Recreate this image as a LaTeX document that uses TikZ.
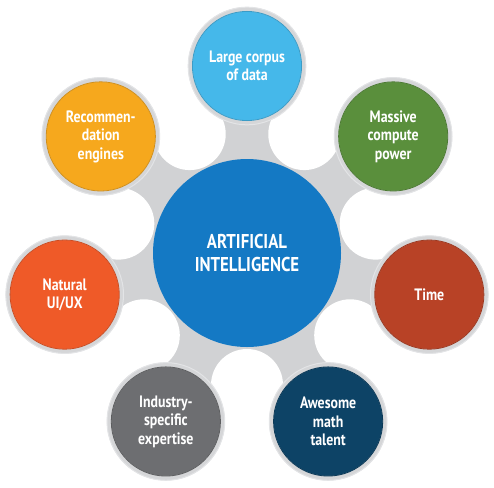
\documentclass[tikz,border=0pt]{standalone}
\usepackage{fontspec}
\setmainfont{PT Sans}[FakeStretch=0.84]
\usetikzlibrary{calc}
\definecolor{bandgray}{HTML}{D1D2D4}
\definecolor{ringgray}{HTML}{D5D6D8}
\definecolor{ringedge}{HTML}{E3E4E6}
\definecolor{cblue}{HTML}{1479C4}
\definecolor{lblue}{HTML}{45B8EA}
\definecolor{sgreen}{HTML}{5A8F3C}
\definecolor{srust}{HTML}{B84226}
\definecolor{snavy}{HTML}{0D4366}
\definecolor{sgray}{HTML}{6D6E71}
\definecolor{sorange}{HTML}{EF5A28}
\definecolor{syellow}{HTML}{F6A81D}
\begin{document}
\begin{tikzpicture}[x=1pt,y=-1pt,
  sat/.style={circle, minimum size=113.5pt, inner sep=0pt, draw=ringgray, line width=4.5pt,
    text=white, align=center, font=\bfseries\fontsize{16.5}{18.5}\selectfont},
  hub/.style={circle, minimum size=188pt, inner sep=0pt, fill=cblue,
    text=white, align=center, font=\bfseries\fontsize{20}{23}\selectfont},
  band/.style={draw=bandgray, line width=90pt},
  gap/.style={fill=white}]
\useasboundingbox (0,0) rectangle (494,487);
\coordinate (C) at (247,253);
\foreach \i/\a in {1/90,2/38.571,3/-12.857,4/-64.286,5/-115.714,6/192.857,7/141.429}{
  \coordinate (p\i) at ($(C)+(-\a:187)$);
}
% gray connector bands
\fill[bandgray] (C) circle[radius=100];
\foreach \i in {1,...,7}{ \draw[band] (C) -- (p\i); }
% white gaps carving the fillets
\foreach \a in {64.286,12.857,-38.571,-90,-141.429,167.143,115.714}{
  \fill[gap] ($(C)+(-\a:132)$) circle[radius=36];
}
% satellites
\node[sat, fill=lblue]   (s1) at (p1) {Large corpus\\of data};
\node[sat, fill=sgreen]  (s2) at (p2) {Massive\\compute\\power};
\node[sat, fill=srust]   (s3) at (p3) {Time};
\node[sat, fill=snavy]   (s4) at (p4) {Awesome\\math\\talent};
\node[sat, fill=sgray]   (s5) at (p5) {Industry-\\specific\\expertise};
\node[sat, fill=sorange] (s6) at (p6) {Natural\\UI/UX};
\node[sat, fill=syellow] (s7) at (p7) {Recommen-\\dation\\engines};
% ring edges
\foreach \i/\c in {1/lblue,2/sgreen,3/srust,4/snavy,5/sgray,6/sorange,7/syellow}{
  \draw[\c!85!black, line width=0.8pt] (s\i.center) circle[radius=54.6];
  \draw[ringedge, line width=1pt] (s\i.center) circle[radius=58.8];
}
% hub
\node[hub] (hub) at (C) {ARTIFICIAL\\INTELLIGENCE};
\end{tikzpicture}
\end{document}
